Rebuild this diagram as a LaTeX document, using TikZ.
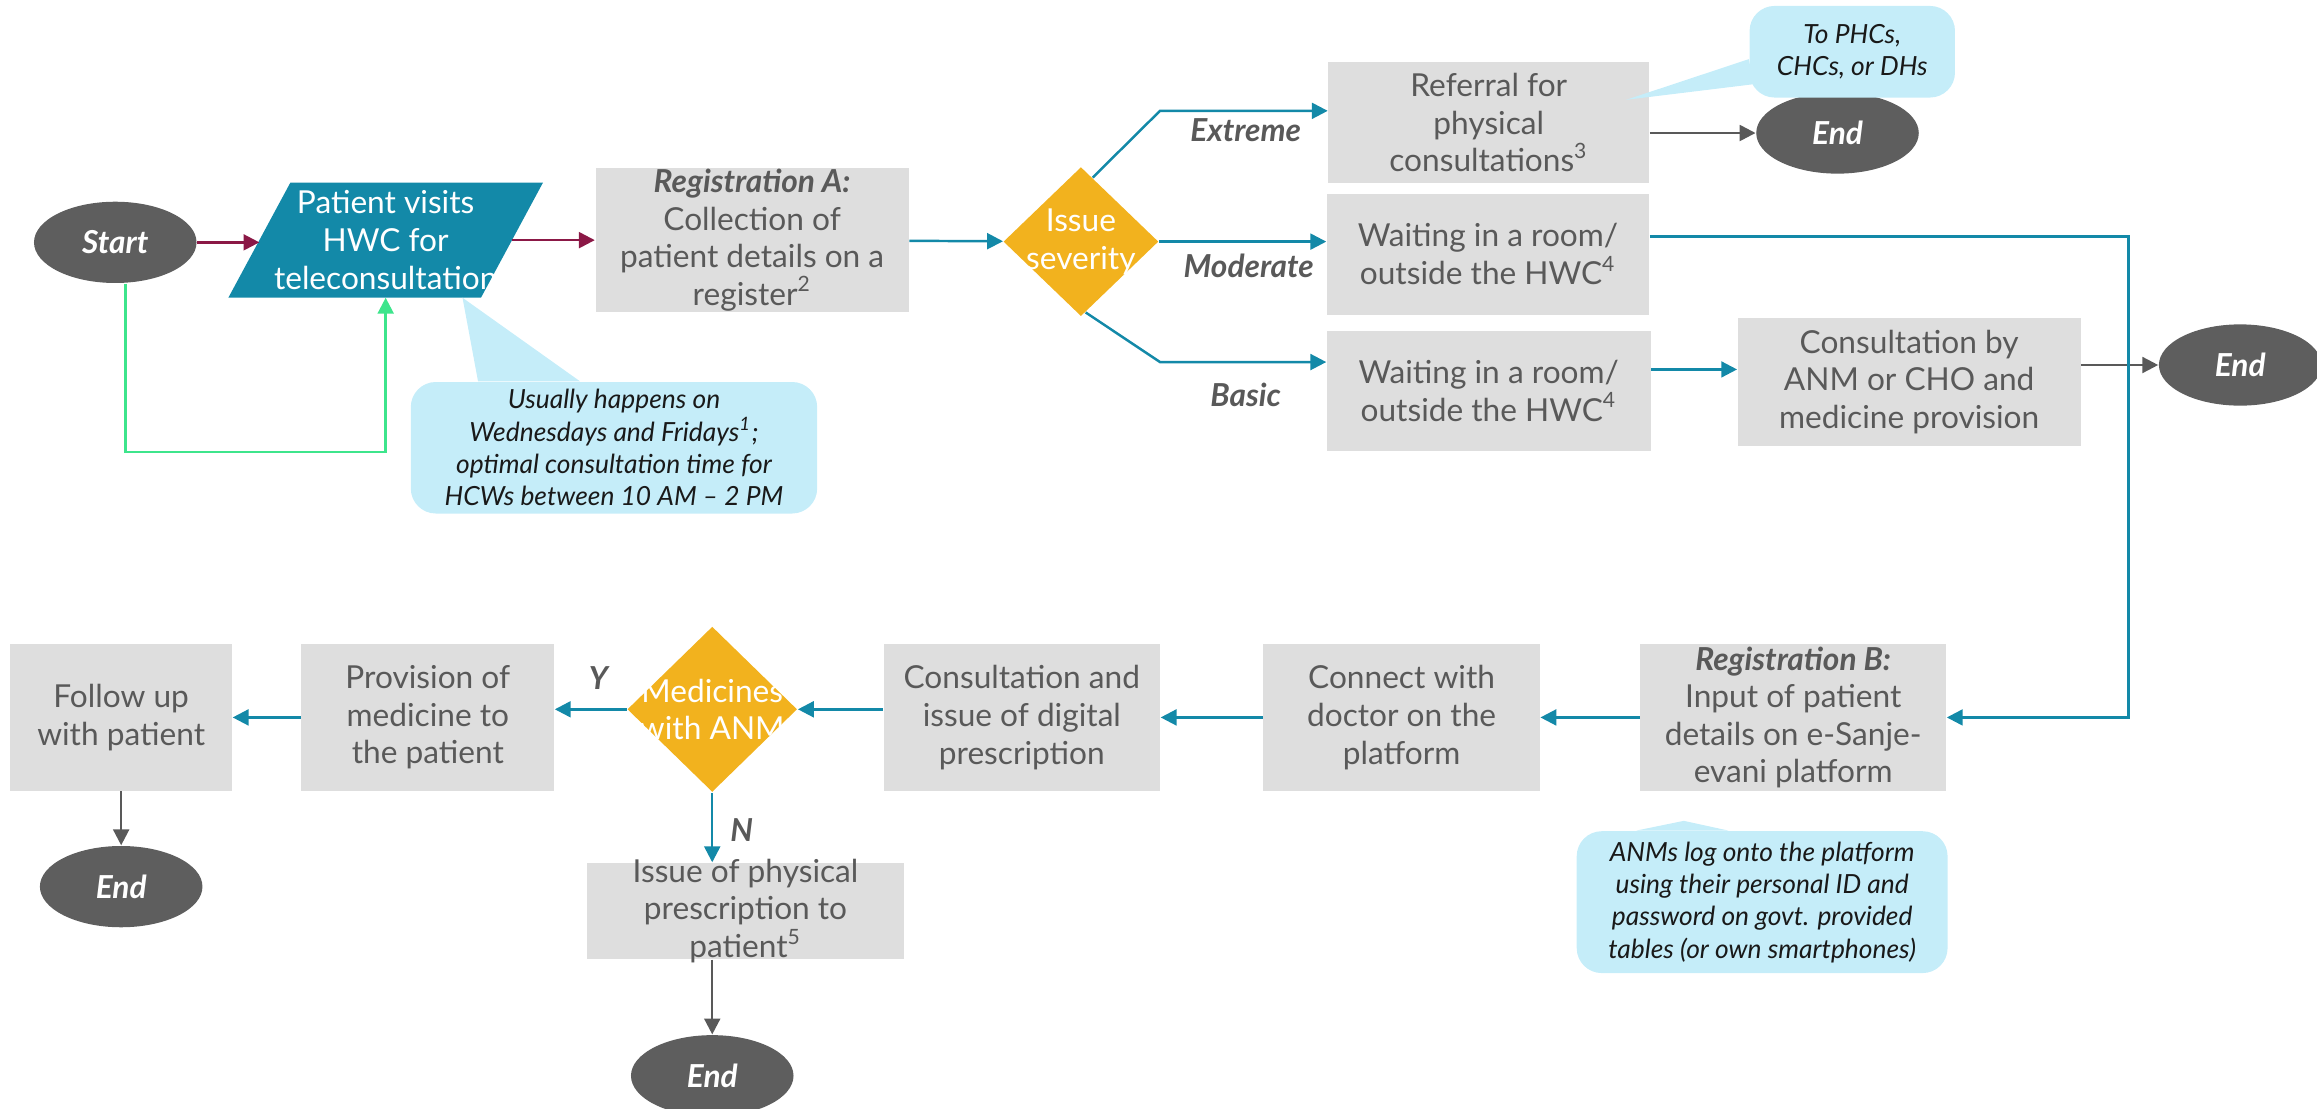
\documentclass[tikz,border=0pt]{standalone}
\usepackage{fontspec}
\setmainfont{Lato}
\usetikzlibrary{arrows.meta, positioning, calc, shapes.geometric, backgrounds}
\pgfdeclarelayer{background}
\pgfsetlayers{background,main}

\definecolor{tealc}{RGB}{19,137,168}
\definecolor{boxgray}{RGB}{222,222,222}
\definecolor{txtgray}{RGB}{89,89,89}
\definecolor{endgray}{RGB}{94,94,94}
\definecolor{decyellow}{RGB}{242,178,30}
\definecolor{notefill}{RGB}{197,237,249}
\definecolor{startred}{RGB}{139,24,70}
\definecolor{loopgreen}{RGB}{61,229,140}

% one unit of the picture grid
\newcommand{\pxu}{0.014777cm}

\begin{document}
\begin{tikzpicture}[
    x=\pxu, y=-\pxu,
    % Process boxes and terminals
    base/.style={font=\fontsize{9}{10.7}\selectfont, align=center},
    box/.style={base, rectangle, fill=boxgray, text=txtgray, inner xsep=2pt, inner ysep=0pt},
    io/.style={base, rectangle, text=white, inner sep=0pt, minimum width=170*\pxu, minimum height=77*\pxu},
    term/.style={base, ellipse, fill=endgray, text=white, font=\fontsize{9}{10.7}\selectfont\bfseries\itshape,
        minimum width=110*\pxu, minimum height=55*\pxu, inner sep=0pt},
    decision/.style={diamond, fill=decyellow, inner sep=0pt},
    dectext/.style={base, text=white},
    % Callouts and labels
    note/.style={rectangle, fill=notefill, rounded corners=0.25cm, text=black!90, align=center,
        font=\fontsize{7.5}{9.2}\selectfont\itshape, inner sep=0pt},
    branch_lbl/.style={font=\fontsize{9}{10.7}\selectfont\bfseries\itshape, text=txtgray},
    % Connectors
    flow/.style={draw=tealc, line width=0.7pt, -{Triangle[length=4.5pt, width=4.5pt]}},
    toend/.style={flow, draw=txtgray},
    startflow/.style={flow, draw=startred},
    loopflow/.style={flow, draw=loopgreen}
]
    \useasboundingbox (0,0) rectangle (1568,750);

    % ==========================================
    % 1. INTAKE AND TRIAGE
    % ==========================================
    \node[term] (start) at (78,164) {Start};
    \node[io] (patient) at (261,162.5) {Patient visits\\HWC for\\teleconsultation};
    \node[box, minimum width=212*\pxu, minimum height=97*\pxu] (rega) at (509,162.5)
        {\textbf{\textit{Registration A:}}\\Collection of\\patient details on a\\register\textsuperscript{2}};
    \node[decision, minimum width=105*\pxu, minimum height=101*\pxu,
        label={[dectext]center:Issue\\severity}] (issue) at (731.5,163.5) {};

    \node[box, minimum width=217*\pxu, minimum height=82*\pxu] (referral) at (1007.5,83)
        {Referral for\\physical\\consultations\textsuperscript{3}};
    \node[box, minimum width=218*\pxu, minimum height=82*\pxu] (wait1) at (1007,172)
        {Waiting in a room/\\outside the HWC\textsuperscript{4}};
    \node[box, minimum width=219*\pxu, minimum height=81*\pxu] (wait2) at (1007.5,264.5)
        {Waiting in a room/\\outside the HWC\textsuperscript{4}};
    \node[term] (endref) at (1243.5,90) {End};
    \node[box, minimum width=232*\pxu, minimum height=87*\pxu] (consanm) at (1292,258.5)
        {Consultation by\\ANM or CHO and\\medicine provision};
    \node[term] (endanm) at (1516,247) {End};

    % Severity labels
    \node[branch_lbl] (lblext) at (843,88) {Extreme};
    \node[branch_lbl] (lblmod) at (845,180) {Moderate};
    \node[branch_lbl] (lblbas) at (843,267) {Basic};

    % Parallelogram behind the visit node
    \begin{pgfonlayer}{background}
        \fill[tealc] ([xshift=21*\pxu]patient.north west) -- ([xshift=21*\pxu]patient.north east)
            -- ([xshift=-21*\pxu]patient.south east) -- ([xshift=-21*\pxu]patient.south west) -- cycle;
    \end{pgfonlayer}

    % ==========================================
    % 2. TELECONSULTATION ROW
    % ==========================================
    \node[box, minimum width=207*\pxu, minimum height=99*\pxu] (regb) at (1213.5,485.5)
        {\textbf{\textit{Registration B:}}\\Input of patient\\details on e-Sanje-\\evani platform};
    \node[box, minimum width=187*\pxu, minimum height=99*\pxu] (connect) at (948.5,485.5)
        {Connect with\\doctor on the\\platform};
    \node[box, minimum width=187*\pxu, minimum height=99*\pxu] (consdig) at (691.5,485.5)
        {Consultation and\\issue of digital\\prescription};
    \node[decision, minimum width=115*\pxu, minimum height=112*\pxu,
        label={[dectext]center:Medicines\\with ANM}] (medicines) at (482,480) {};
    \node[box, minimum width=171*\pxu, minimum height=99*\pxu] (provision) at (289.5,485.5)
        {Provision of\\medicine to\\the patient};
    \node[box, minimum width=150*\pxu, minimum height=99*\pxu] (follow) at (82,485.5)
        {Follow up\\with patient};
    \node[term] (endfollow) at (82,600) {End};
    \node[box, minimum width=215*\pxu, minimum height=65*\pxu, inner ysep=-2pt] (issuephys) at (504.5,616.5)
        {Issue of physical\\prescription to\\patient\textsuperscript{5}};
    \node[term] (endissue) at (482,728) {End};

    \node[branch_lbl] (lbly) at (405,459) {Y};
    \node[branch_lbl] (lbln) at (502,562) {N};

    % ==========================================
    % 3. CALLOUTS
    % ==========================================
    \node[note, minimum width=139*\pxu, minimum height=62*\pxu] (noteref) at (1253.5,35)
        {To PHCs,\\CHCs, or DHs};
    \node[note, minimum width=275*\pxu, minimum height=89*\pxu] (notevisit) at (415.5,303)
        {Usually happens on\\Wednesdays and Fridays\textsuperscript{1};\\optimal consultation time for\\HCWs between 10 AM -- 2 PM};
    \node[note, minimum width=251*\pxu, minimum height=96*\pxu] (notelogin) at (1192.5,610.5)
        {ANMs log onto the platform\\using their personal ID and\\password on govt. provided\\tables (or own smartphones)};

    \fill[notefill] ([xshift=-92*\pxu]notevisit.north) -- ([xshift=52*\pxu]patient.south)
        -- ([xshift=-23*\pxu]notevisit.north) -- cycle;
    \fill[notefill] ([yshift=-5*\pxu]noteref.west) -- ([xshift=-16*\pxu, yshift=-26*\pxu]referral.north east)
        -- ([xshift=3*\pxu, yshift=-22*\pxu]noteref.west) -- cycle;
    \fill[notefill] ([xshift=-85*\pxu]notelogin.north) -- ([xshift=-74*\pxu, yshift=-20*\pxu]regb.south)
        -- ([xshift=-23*\pxu]notelogin.north) -- cycle;

    % ==========================================
    % 4. CONNECTIONS
    % ==========================================
    \draw[startflow] (start.east) -- (start.east -| patient.west);
    \draw[startflow] (patient) -- (rega);
    \draw[loopflow] ([xshift=7*\pxu]start.south) -- ++(0,114) -| (patient.south);
    \draw[flow] (rega) -- (issue);

    % Severity branches
    \draw[flow] ($(issue.north)!0.15!(issue.east)$) -- (785,75) -- ([yshift=8*\pxu]referral.west);
    \draw[flow] (issue.east) -- (issue.east -| wait1.west);
    \draw[flow] ($(issue.south)!0.06!(issue.east)$) -- (785,245) -- ([yshift=19.5*\pxu]wait2.west);

    \draw[toend] (referral.east |- endref) -- (endref);
    \draw[flow] ([yshift=14.5*\pxu]wait2.east) -- ([yshift=14.5*\pxu]wait2.east -| consanm.west);
    \draw[toend] (consanm.east |- endanm) -- (endanm);
    \draw[flow] ([yshift=12*\pxu]wait1.east) -| ([xshift=123*\pxu]regb.east) -- (regb.east);

    % Bottom row, right to left
    \draw[flow] (regb) -- (connect);
    \draw[flow] (connect) -- (consdig);
    \draw[flow] (consdig.west |- medicines) -- (medicines);
    \draw[flow] (medicines) -- (medicines -| provision.east);
    \draw[flow] (provision) -- (follow);
    \draw[toend] (follow) -- (endfollow);
    \draw[flow] (medicines) -- (medicines |- issuephys.north);
    \draw[toend] (medicines |- issuephys.south) -- (endissue);

\end{tikzpicture}
\end{document}
